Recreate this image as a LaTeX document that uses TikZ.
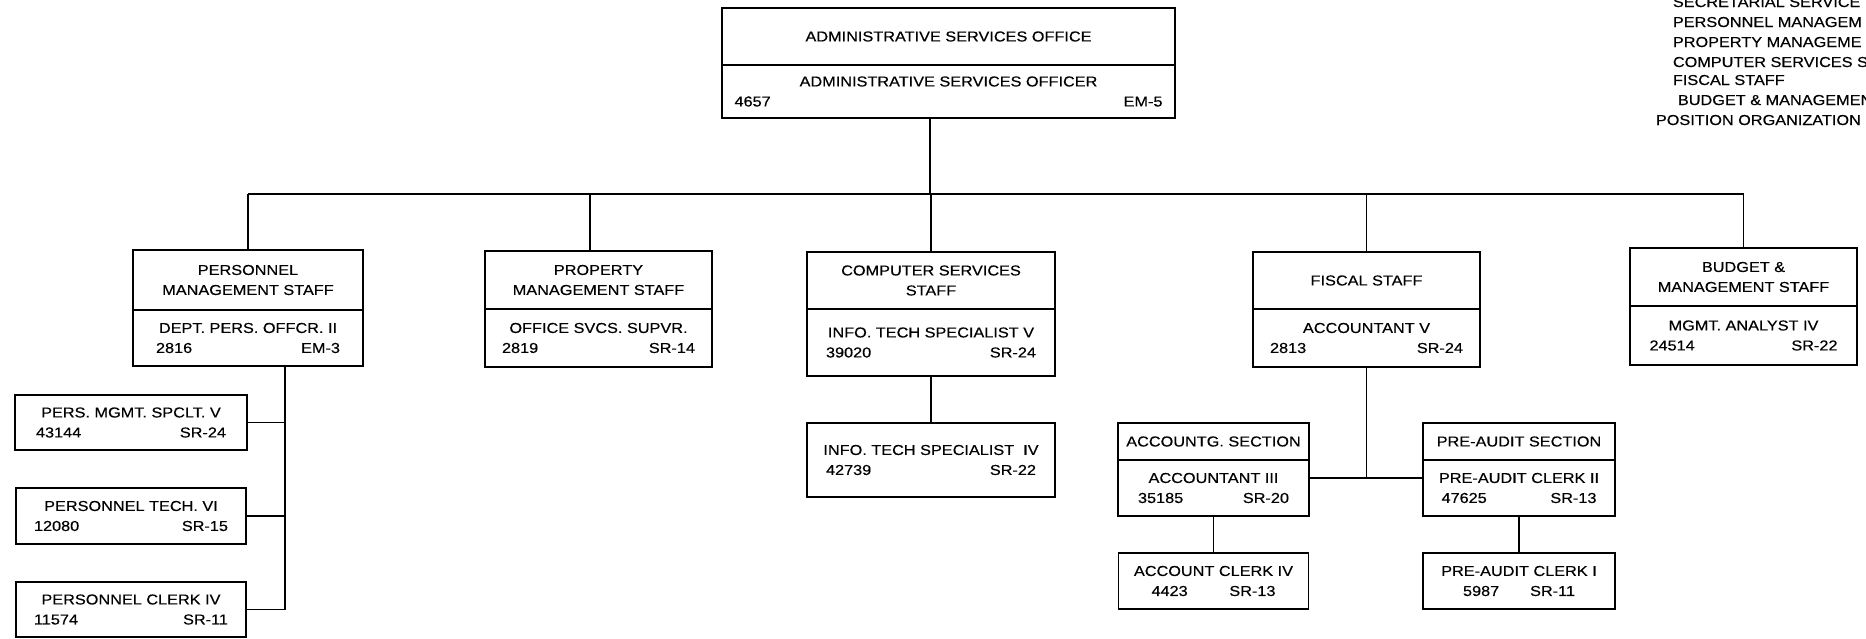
\documentclass[tikz,border=0pt]{standalone}
\usepackage{fontspec}
\setmainfont{Liberation Sans}[FakeStretch=1.13,FakeBold=0.4]
\usetikzlibrary{positioning}

% title line, then number and grade at both ends of a row
\newcommand{\post}[4]{#1\\\makebox[#4]{#2\hfill #3}}

\begin{document}
\begin{tikzpicture}[x=0.5pt,y=-0.5pt,line width=0.9pt,
  font=\fontsize{7.2}{10}\selectfont,
  unit/.style={draw,align=center,inner sep=0pt,outer sep=0pt},
  head/.style={unit,anchor=north}]

  \useasboundingbox (0,0) rectangle (1866,638);
  \clip (0,0) rectangle (1866,638);

  % office
  \node[head,minimum width=226.5pt,minimum height=28.5pt] (aso-h) at (948.5,8) {ADMINISTRATIVE SERVICES OFFICE};
  \node[unit,minimum width=226.5pt,minimum height=26.5pt,below=0pt of aso-h] (aso-b) {\post{ADMINISTRATIVE SERVICES OFFICER}{4657}{EM-5}{214pt}};

  % staffs
  \node[head,minimum width=115pt,minimum height=30pt] (pms-h) at (248,250) {PERSONNEL\\MANAGEMENT STAFF};
  \node[unit,minimum width=115pt,minimum height=28pt,below=0pt of pms-h] (pms-b) {\post{DEPT. PERS. OFFCR. II}{2816}{EM-3}{92pt}};

  \node[head,minimum width=113.5pt,minimum height=29pt] (ppty-h) at (598.5,251) {PROPERTY\\MANAGEMENT STAFF};
  \node[unit,minimum width=113.5pt,minimum height=29pt,below=0pt of ppty-h] (ppty-b) {\post{OFFICE SVCS. SUPVR.}{2819}{SR-14}{96.5pt}};

  \node[head,minimum width=124pt,minimum height=28.5pt] (css-h) at (931,252) {COMPUTER SERVICES\\STAFF};
  \node[unit,minimum width=124pt,minimum height=33.5pt,below=0pt of css-h] (css-b) {\post{INFO. TECH SPECIALIST V}{39020}{SR-24}{105pt}};

  \node[head,minimum width=113.5pt,minimum height=28.5pt] (fis-h) at (1366.5,252) {FISCAL STAFF};
  \node[unit,minimum width=113.5pt,minimum height=29pt,below=0pt of fis-h] (fis-b) {\post{ACCOUNTANT V}{2813}{SR-24}{96.5pt}};

  \node[head,minimum width=113.5pt,minimum height=29pt] (bms-h) at (1743.5,248) {BUDGET \&\\MANAGEMENT STAFF};
  \node[unit,minimum width=113.5pt,minimum height=29.5pt,below=0pt of bms-h] (bms-b) {\post{MGMT. ANALYST IV}{24514}{SR-22}{94pt}};

  % personnel posts
  \node[head,minimum width=116pt,minimum height=27.5pt] (pms1) at (131,395) {\post{PERS. MGMT. SPCLT. V}{43144}{SR-24}{95pt}};
  \node[unit,minimum width=115pt,minimum height=28pt,below=19pt of pms1] (pms2) {\post{PERSONNEL TECH. VI}{12080}{SR-15}{97pt}};
  \node[unit,minimum width=115pt,minimum height=27.5pt,below=19pt of pms2] (pms3) {\post{PERSONNEL CLERK IV}{11574}{SR-11}{97pt}};

  % computer post
  \node[unit,minimum width=124pt,minimum height=37pt,below=23.5pt of css-b] (it4) {\post{INFO. TECH SPECIALIST\ \ IV}{42739}{SR-22}{105pt}};

  % fiscal sections
  \node[head,minimum width=95.5pt,minimum height=18.5pt] (acctg-h) at (1213.5,423) {ACCOUNTG. SECTION};
  \node[unit,minimum width=95.5pt,minimum height=28pt,below=0pt of acctg-h] (acctg-b) {\post{ACCOUNTANT III}{35185}{SR-20}{75.5pt}};
  \node[unit,minimum width=95pt,minimum height=28pt,below=18.5pt of acctg-b] (acl4) {\post{ACCOUNT CLERK IV}{4423}{SR-13}{62pt}};

  \node[head,minimum width=96pt,minimum height=18.5pt] (pre-h) at (1519,423) {PRE-AUDIT SECTION};
  \node[unit,minimum width=96pt,minimum height=28pt,below=0pt of pre-h] (pre-b) {\post{PRE-AUDIT CLERK II}{47625}{SR-13}{77.5pt}};
  \node[unit,minimum width=96pt,minimum height=28pt,below=18.5pt of pre-b] (pac1) {\post{PRE-AUDIT CLERK I}{5987}{SR-11}{56pt}};

  % lines
  \draw ([xshift=-9.25pt]aso-b.south) -- ++(0,76) coordinate (bus);
  \draw (pms-h.north |- bus) -- (bms-h.north |- bus);
  \foreach \n in {pms,css,fis,bms}
    \draw (\n-h.north) -- (\n-h.north |- bus);
  \draw ([xshift=-4.25pt]ppty-h.north) -- ([xshift=-4.25pt]ppty-h.north |- bus);

  \coordinate (pmsx) at ([xshift=18.5pt]pms-b.south);
  \draw (pmsx) |- (pms3.east);
  \foreach \n in {pms1,pms2}
    \draw (\n.east) -- (\n.east -| pmsx);

  \draw (css-b) -- (it4);

  \draw (fis-b.south) -- ++(0,111) coordinate (fjn);
  \draw (acctg-b.east |- fjn) -- (pre-b.west |- fjn);
  \draw (acctg-b) -- (acl4);
  \draw (pre-b) -- (pac1);

  % list at the top right, cut by the page edge as in the original
  \foreach \x/\y/\t [count=\i] in {1672/7/SECRETARIAL SERVICE,1672/27/PERSONNEL MANAGEM,
      1672/47/PROPERTY MANAGEME,1672/67/COMPUTER SERVICES S,1672/85/FISCAL STAFF,
      1677/105/BUDGET \& MANAGEMEN,1655/125/POSITION ORGANIZATION}
    \node[anchor=base west,inner sep=0pt] (list\i) at (\x,\y) {\t};

\end{tikzpicture}
\end{document}
